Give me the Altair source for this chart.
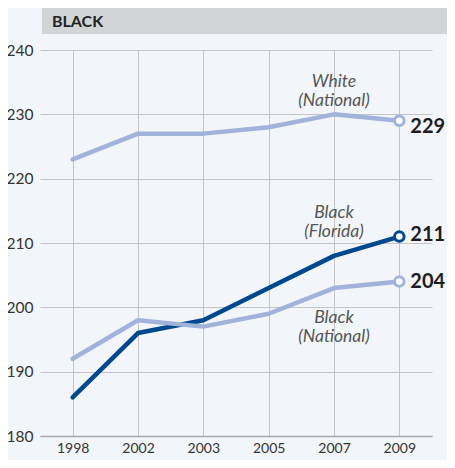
import altair as alt
import pandas as pd

years = ["1998", "2002", "2003", "2005", "2007", "2009"]
white_national = [223, 227, 227, 228, 230, 229]
black_florida = [186, 196, 198, 203, 208, 211]
black_national = [192, 198, 197, 199, 203, 204]

series_names = ["White (National)", "Black (Florida)", "Black (National)"]
series_values = [white_national, black_florida, black_national]
series_colors = ["#a2b3db", "#00488d", "#a2b3db"]

rows = []
for name, vals in zip(series_names, series_values):
    for yr, v in zip(years, vals):
        rows.append({"series": name, "year": yr, "score": v})
df = pd.DataFrame(rows)
last = df[df["year"] == years[-1]].copy()
last["label"] = last["score"].astype(str)
last["label_y"] = [228.0, 211.3, 204.0]

notes = pd.DataFrame({
    "year": ["2007", "2007", "2007"],
    "y": [235.0, 214.7, 198.3],
    "text": ["White\n(National)", "Black\n(Florida)", "Black\n(National)"],
})

BG = "#f2f5f9"
xs = alt.X("year:O", sort=years, scale=alt.Scale(type="point", padding=0.5),
           axis=alt.Axis(title=None, labelAngle=0, ticks=False, labelPadding=5,
                         labelFontSize=14, labelColor="#333333", labelFont="Lato",
                         grid=True, gridColor="#c4c5c9", gridWidth=1,
                         domainColor="#a9aaae", domainWidth=1.5))
ys = alt.Y("score:Q", scale=alt.Scale(domain=[180, 240], nice=False, zero=False),
           axis=alt.Axis(title=None, values=[180, 190, 200, 210, 220, 230, 240],
                         ticks=False, domain=False, labelPadding=7, labelFontSize=15.5,
                         labelColor="#333333", labelFont="Lato",
                         grid=True, gridColor="#c4c5c9", gridWidth=1))

color = alt.Color("series:N", scale=alt.Scale(domain=series_names, range=series_colors), legend=None)

header = alt.Chart(alt.Data(values=[{"t": "BLACK"}])).mark_rect(
    color="#d3d4d6", cornerRadiusTopRight=22
).encode(x=alt.value(2), x2=alt.value(420), y=alt.value(-42), y2=alt.value(-16))

header_text = alt.Chart(alt.Data(values=[{"t": "BLACK"}])).mark_text(
    align="left", baseline="middle", font="Lato", fontWeight="bold", fontSize=16, color="#222222"
).encode(x=alt.value(12), y=alt.value(-28), text="t:N")

lines = alt.Chart(df).mark_line(strokeWidth=4.5, strokeCap="round", strokeJoin="round").encode(
    x=xs, y=ys, color=color, detail="series:N", order=alt.Order("series:N")
)

points = alt.Chart(last).mark_point(shape="circle", size=90, strokeWidth=3, filled=False, fill="white", fillOpacity=1).encode(
    x=alt.X("year:O", sort=years), y="score:Q", color=color
)

end_labels = alt.Chart(last).mark_text(
    align="left", baseline="middle", dx=11, font="Lato", fontWeight="bold", fontSize=20, color="#1d1d1f"
).encode(x=alt.X("year:O", sort=years), y=alt.Y("label_y:Q"), text="label:N")

note_text = alt.Chart(notes).mark_text(
    align="center", baseline="middle", font="Lato", fontStyle="italic", fontSize=17.5,
    color="#555555", lineBreak="\n", lineHeight=19
).encode(x=alt.X("year:O", sort=years), y=alt.Y("y:Q"), text="text:N")

chart = alt.layer(header, header_text, lines, points, end_labels, note_text).properties(
    width=392, height=386, background=BG,
    autosize=alt.AutoSizeParams(type="none"),
    padding={"left": 32, "top": 42, "right": 15, "bottom": 24},
).configure_view(stroke=None)

chart.save("out.html", embed_options={"renderer": "svg", "actions": False})
